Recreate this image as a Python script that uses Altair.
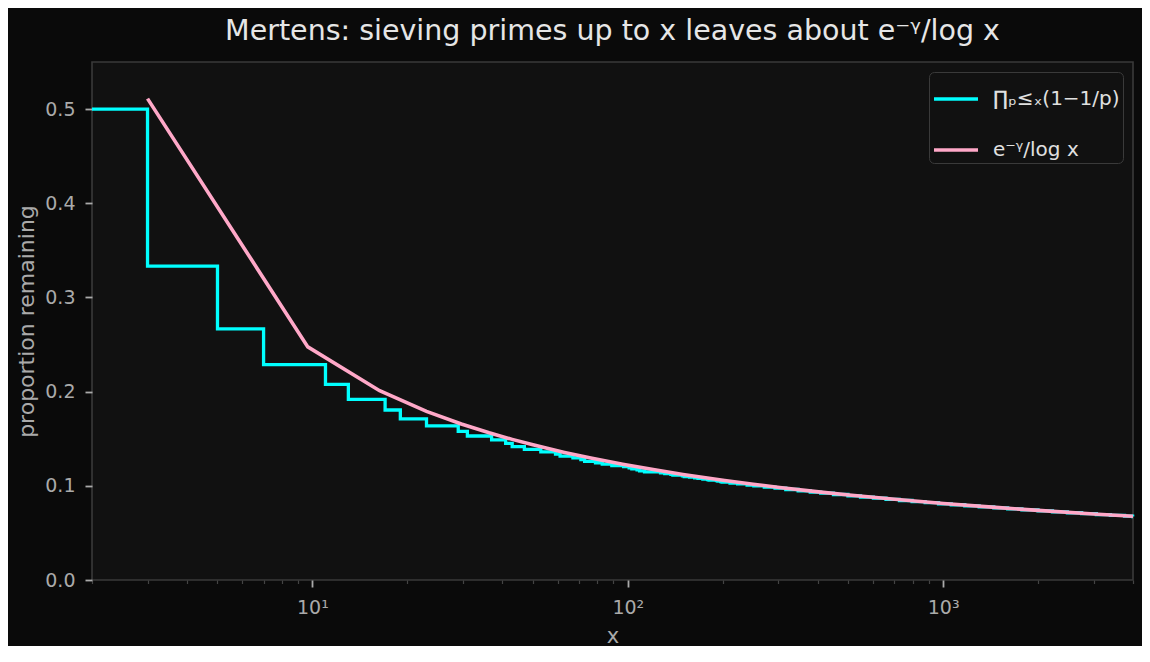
import altair as alt
import pandas as pd

# ---- data ----
# cumulative product over primes p <= x of (1 - 1/p), value after each breakpoint
step_x = [2, 3, 5, 7, 11, 13, 17, 19, 23, 29, 31, 37, 41, 43, 47, 53, 59, 61, 67, 71,
          73, 79, 83, 89, 97, 101, 103, 107, 109, 113, 127, 131, 137, 139, 149, 151,
          157, 163, 167, 173, 179, 181, 191, 193, 197, 199, 211, 223, 239, 251, 271,
          293, 317, 347, 379, 409, 449, 499, 547, 601, 659, 727, 797, 877, 967, 1061,
          1171, 1301, 1447, 1601, 1777, 1999, 2221, 2477, 2749, 3061, 3391, 3761, 3989, 4000]
step_y = [0.5000, 0.3333, 0.2667, 0.2286, 0.2078, 0.1918, 0.1805, 0.1710, 0.1636, 0.1579,
          0.1529, 0.1487, 0.1451, 0.1417, 0.1387, 0.1361, 0.1338, 0.1316, 0.1296, 0.1278,
          0.1260, 0.1245, 0.1230, 0.1216, 0.1203, 0.1191, 0.1180, 0.1169, 0.1158, 0.1148,
          0.1139, 0.1130, 0.1122, 0.1114, 0.1106, 0.1099, 0.1092, 0.1085, 0.1079, 0.1072,
          0.1066, 0.1061, 0.1055, 0.1050, 0.1044, 0.1039, 0.1029, 0.1020, 0.1008, 0.1000,
          0.0987, 0.0975, 0.0961, 0.0947, 0.0933, 0.0922, 0.0908, 0.0894, 0.0881, 0.0869,
          0.0856, 0.0844, 0.0833, 0.0821, 0.0809, 0.0799, 0.0788, 0.0777, 0.0765, 0.0755,
          0.0745, 0.0734, 0.0724, 0.0714, 0.0704, 0.0695, 0.0687, 0.0678, 0.0673, 0.0673]

# e^-gamma / log x, sampled points
curve_x = [3, 9.667, 16.333, 23, 29.667, 36.333, 43, 49.667, 56.333, 63, 76.333, 96.333,
           123, 149.667, 203, 250, 303, 403, 503, 703, 1003, 1503, 2003, 3003, 4000]
curve_y = [0.5111, 0.2475, 0.2010, 0.1791, 0.1656, 0.1563, 0.1493, 0.1438, 0.1393, 0.1355,
           0.1295, 0.1229, 0.1167, 0.1121, 0.1057, 0.1017, 0.0983, 0.0936, 0.0903, 0.0857,
           0.0812, 0.0768, 0.0739, 0.0701, 0.0677]

LAB_P = "∏ₚ≤ₓ(1−1/p)"
LAB_M = "e⁻ᵞ/log x"
series = [LAB_P, LAB_M]
colors = ["#00ffff", "#ffa8c8"]

x_ticks = [2, 3, 4, 5, 6, 7, 8, 9, 10, 20, 30, 40, 50, 60, 70, 80, 90, 100,
           200, 300, 400, 500, 600, 700, 800, 900, 1000, 2000, 3000, 4000]
y_ticks = [0.0, 0.1, 0.2, 0.3, 0.4, 0.5]

df_step = pd.DataFrame({"x": step_x, "y": step_y, "series": LAB_P})
df_curve = pd.DataFrame({"x": curve_x, "y": curve_y, "series": LAB_M})

major_test = "datum.value == 10 || datum.value == 100 || datum.value == 1000"

xenc = alt.X(
    "x:Q",
    title="x",
    scale=alt.Scale(type="log", domain=[2, 4000], nice=False),
    axis=alt.Axis(
        values=x_ticks,
        labelExpr="datum.value == 10 ? '10¹' : datum.value == 100 ? '10²' : datum.value == 1000 ? '10³' : ''",
        labelOverlap=False,
        labelFlush=False,
        grid=False,
        domain=False,
        tickSize={"condition": {"test": major_test, "value": 7}, "value": 3.5},
        tickColor={"condition": {"test": major_test, "value": "#aaaaaa"}, "value": "#444444"},
        tickWidth={"condition": {"test": major_test, "value": 1.8}, "value": 1.2},
        labelPadding=11,
        titleX=520.5,
        titleY=62,
        titleBaseline="alphabetic",
        titleAlign="center",
    ),
)
yenc = alt.Y(
    "y:Q",
    title="proportion remaining",
    scale=alt.Scale(domain=[0, 0.55], nice=False, zero=False),
    axis=alt.Axis(
        values=y_ticks,
        format=".1f",
        grid=False,
        domain=False,
        tickSize=7,
        tickWidth=1.8,
        tickColor="#aaaaaa",
        labelPadding=10,
        titleX=-59,
        titleY=259,
        titleAngle=-90,
        titleBaseline="alphabetic",
        titleAlign="center",
        titleFontSize=22,
    ),
)
color = alt.Color(
    "series:N",
    scale=alt.Scale(domain=series, range=colors),
    legend=alt.Legend(
        title=None,
        orient="top-right",
        offset=10,
        symbolType="stroke",
        symbolSize=1936,
        symbolStrokeWidth=3.4,
        labelFontSize=20,
        labelColor="#e0e0e0",
        labelFont="DejaVu Sans",
        labelOffset=13,
        fillColor="#111111",
        strokeColor="#3a3a3a",
        padding=3,
        rowPadding=17,
        cornerRadius=5,
    ),
)

step = alt.Chart(df_step).mark_line(interpolate="step-after", strokeWidth=3.3).encode(
    x=xenc, y=yenc, color=color
)
curve = alt.Chart(df_curve).mark_line(strokeWidth=3.6).encode(
    x=xenc, y=yenc, color=color
)

chart = (
    alt.layer(step, curve)
    .properties(
        width=1041,
        height=518,
        autosize=alt.AutoSizeParams(type="none"),
        padding={"left": 84, "top": 54, "right": 9, "bottom": 66},
        background="#0a0a0a",
        title=alt.TitleParams(
            "Mertens: sieving primes up to x leaves about e⁻ᵞ/log x",
            fontSize=28.5,
            font="DejaVu Sans",
            fontWeight="normal",
            color="#e6e6e6",
            anchor="middle",
            frame="group",
            baseline="alphabetic",
            offset=-6,
        ),
    )
    .configure_view(fill="#111111", stroke="#3a3a3a", strokeWidth=1.6)
    .configure_axis(
        labelFont="DejaVu Sans",
        labelFontSize=19,
        labelColor="#aaaaaa",
        titleFont="DejaVu Sans",
        titleFontSize=21,
        titleFontWeight="normal",
        titleColor="#aaaaaa",
    )
)

chart.save("out.html", embed_options={"renderer": "svg", "actions": False})
